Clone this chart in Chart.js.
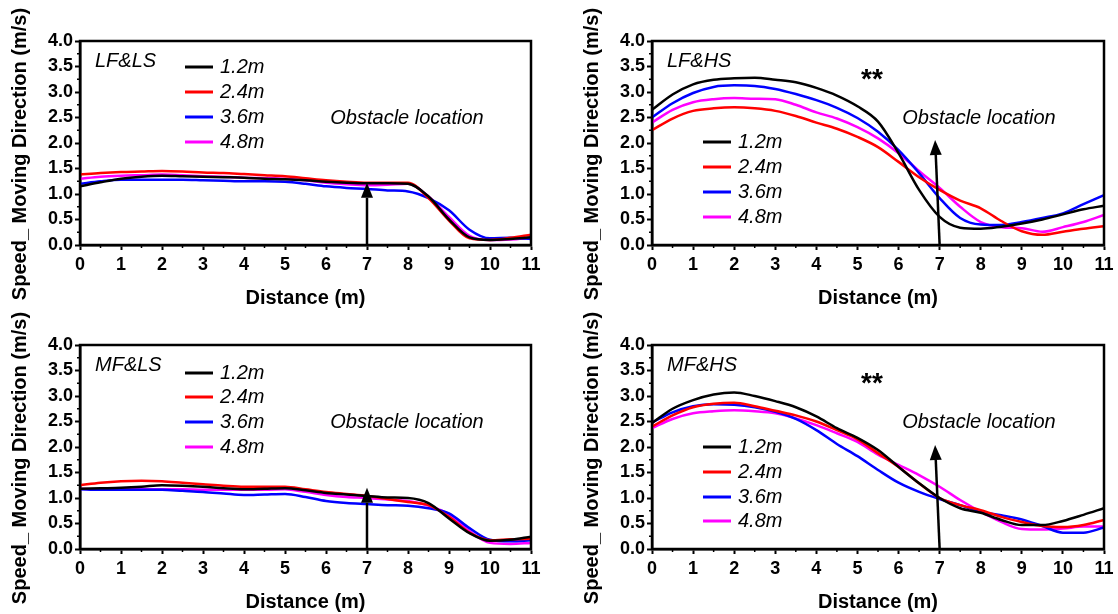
<!DOCTYPE html>
<html>
<head>
<meta charset="utf-8">
<script src="https://cdn.jsdelivr.net/npm/chart.js@4.4.0/dist/chart.umd.min.js"></script>
<style>
html, body { margin: 0; padding: 0; background: #fff; }
body { width: 1118px; height: 614px; position: relative; overflow: hidden; }
canvas { position: absolute; }
</style>
</head>
<body>
<canvas id="lfls" width="560" height="310" style="left:0;top:0"></canvas>
<canvas id="lfhs" width="558" height="310" style="left:560px;top:0"></canvas>
<canvas id="mfls" width="560" height="304" style="left:0;top:310px"></canvas>
<canvas id="mfhs" width="558" height="304" style="left:560px;top:310px"></canvas>
<script>
// distance along the path (m)
var distance = [0, 0.5, 1, 1.5, 2, 2.5, 3, 3.5, 4, 4.5, 5, 5.5, 6, 6.5, 7, 7.5, 8, 8.5, 9, 9.5, 10, 10.5, 11];
var heights = ['1.2m', '2.4m', '3.6m', '4.8m'];
var yTicks = [0, 0.5, 1, 1.5, 2, 2.5, 3, 3.5, 4];

// LF&LS
var lfls12 = [1.15, 1.23, 1.30, 1.34, 1.36, 1.35, 1.34, 1.33, 1.32, 1.30, 1.29, 1.27, 1.24, 1.22, 1.21, 1.21, 1.20, 0.95, 0.50, 0.15, 0.10, 0.12, 0.15];
var lfls24 = [1.38, 1.41, 1.43, 1.44, 1.45, 1.44, 1.42, 1.41, 1.39, 1.37, 1.35, 1.31, 1.27, 1.24, 1.22, 1.22, 1.22, 0.92, 0.48, 0.13, 0.10, 0.14, 0.20];
var lfls36 = [1.20, 1.25, 1.28, 1.28, 1.28, 1.28, 1.27, 1.26, 1.25, 1.25, 1.24, 1.20, 1.15, 1.12, 1.10, 1.07, 1.05, 0.92, 0.68, 0.30, 0.13, 0.14, 0.12];
var lfls48 = [1.30, 1.34, 1.36, 1.37, 1.38, 1.37, 1.35, 1.34, 1.32, 1.31, 1.30, 1.27, 1.22, 1.19, 1.17, 1.18, 1.20, 0.95, 0.55, 0.18, 0.10, 0.11, 0.14];

// LF&HS
var lfhs12 = [2.65, 2.95, 3.15, 3.24, 3.27, 3.28, 3.24, 3.19, 3.08, 2.93, 2.72, 2.42, 1.80, 1.08, 0.55, 0.34, 0.32, 0.36, 0.42, 0.50, 0.60, 0.70, 0.77];
var lfhs24 = [2.25, 2.48, 2.63, 2.68, 2.70, 2.68, 2.63, 2.53, 2.40, 2.28, 2.12, 1.92, 1.63, 1.33, 1.08, 0.87, 0.72, 0.47, 0.27, 0.20, 0.26, 0.32, 0.37];
var lfhs36 = [2.50, 2.78, 2.98, 3.10, 3.13, 3.12, 3.06, 2.96, 2.84, 2.69, 2.49, 2.22, 1.86, 1.41, 0.92, 0.53, 0.40, 0.39, 0.45, 0.53, 0.62, 0.80, 0.98];
var lfhs48 = [2.40, 2.65, 2.80, 2.86, 2.88, 2.87, 2.86, 2.75, 2.60, 2.48, 2.31, 2.09, 1.80, 1.45, 1.12, 0.75, 0.45, 0.35, 0.33, 0.26, 0.35, 0.45, 0.59];

// MF&LS
var mfls12 = [1.18, 1.19, 1.20, 1.22, 1.25, 1.24, 1.22, 1.19, 1.17, 1.18, 1.19, 1.15, 1.10, 1.07, 1.04, 1.01, 1.00, 0.90, 0.60, 0.31, 0.16, 0.18, 0.24];
var mfls24 = [1.25, 1.30, 1.33, 1.34, 1.33, 1.30, 1.27, 1.24, 1.22, 1.22, 1.22, 1.17, 1.12, 1.08, 1.04, 0.98, 0.92, 0.86, 0.63, 0.32, 0.17, 0.19, 0.20];
var mfls36 = [1.17, 1.16, 1.16, 1.16, 1.16, 1.14, 1.12, 1.09, 1.06, 1.07, 1.08, 1.02, 0.94, 0.90, 0.88, 0.86, 0.85, 0.80, 0.70, 0.41, 0.18, 0.15, 0.17];
var mfls48 = [1.18, 1.17, 1.17, 1.17, 1.17, 1.17, 1.16, 1.16, 1.16, 1.16, 1.17, 1.12, 1.06, 1.02, 1.00, 0.97, 0.94, 0.85, 0.68, 0.35, 0.12, 0.10, 0.12];

// MF&HS
var mfhs12 = [2.47, 2.75, 2.92, 3.03, 3.07, 3.00, 2.90, 2.78, 2.60, 2.37, 2.18, 1.94, 1.61, 1.29, 1.00, 0.80, 0.71, 0.57, 0.47, 0.47, 0.55, 0.67, 0.80];
var mfhs24 = [2.40, 2.62, 2.78, 2.85, 2.87, 2.80, 2.71, 2.62, 2.50, 2.33, 2.15, 1.88, 1.61, 1.29, 1.00, 0.86, 0.76, 0.63, 0.53, 0.45, 0.43, 0.47, 0.57];
var mfhs36 = [2.48, 2.68, 2.80, 2.84, 2.83, 2.78, 2.69, 2.55, 2.33, 2.06, 1.82, 1.55, 1.30, 1.12, 0.98, 0.86, 0.73, 0.66, 0.58, 0.45, 0.32, 0.32, 0.42];
var mfhs48 = [2.37, 2.55, 2.66, 2.70, 2.72, 2.70, 2.66, 2.56, 2.43, 2.27, 2.10, 1.85, 1.65, 1.45, 1.22, 0.96, 0.73, 0.53, 0.39, 0.38, 0.40, 0.44, 0.44];

// obstacle arrow: [x bottom, x top, y top]
var arrowLFLS = [7, 7, 1.22];
var arrowLFHS = [7, 6.89, 2.06];
var arrowMFLS = [7, 7, 1.20];
var arrowMFHS = [7, 6.89, 2.04];

Chart.defaults.font.family = '"Liberation Sans", Arial, sans-serif';
Chart.defaults.color = '#000';

var colors = ['#000000', '#ff0000', '#0000ff', '#ff00ff'];
var TEXT_IT = 'italic 20px "Liberation Sans", Arial, sans-serif';

function drawArrow(ctx, x0, y0, x1, y1) {
    var ang = Math.atan2(y1 - y0, x1 - x0);
    var hl = 15, hw = 6;
    var bx = x1 - hl * Math.cos(ang), by = y1 - hl * Math.sin(ang);
    ctx.beginPath();
    ctx.moveTo(x0, y0);
    ctx.lineTo(bx, by);
    ctx.lineWidth = 2.5;
    ctx.strokeStyle = '#000';
    ctx.stroke();
    ctx.beginPath();
    ctx.moveTo(x1, y1);
    ctx.lineTo(bx + hw * Math.sin(ang), by - hw * Math.cos(ang));
    ctx.lineTo(bx - hw * Math.sin(ang), by + hw * Math.cos(ang));
    ctx.closePath();
    ctx.fillStyle = '#000';
    ctx.fill();
}

function decorPlugin(cfg) {
    return {
        id: 'decor',
        afterDraw: function (chart) {
            var ctx = chart.ctx, a = chart.chartArea;
            var sx = chart.scales.x, sy = chart.scales.y;
            ctx.save();
            // frame
            ctx.strokeStyle = '#000';
            ctx.lineWidth = 2.5;
            ctx.strokeRect(a.left, a.top, a.right - a.left, a.bottom - a.top);
            // minor ticks
            ctx.lineWidth = 1.5;
            ctx.beginPath();
            for (var v = 0.5; v < 11; v += 1) {
                var px = sx.getPixelForValue(v);
                ctx.moveTo(px, a.bottom); ctx.lineTo(px, a.bottom + 3);
            }
            for (var w = 0.25; w < 4; w += 0.5) {
                var py = sy.getPixelForValue(w);
                ctx.moveTo(a.left, py); ctx.lineTo(a.left - 3, py);
            }
            ctx.stroke();
            // y title
            ctx.save();
            ctx.translate(a.left - 60, a.top + 113);
            ctx.rotate(-Math.PI / 2);
            ctx.font = 'bold 20px "Liberation Sans", Arial, sans-serif';
            ctx.textAlign = 'center';
            ctx.textBaseline = 'middle';
            ctx.fillStyle = '#000';
            ctx.fillText('Speed_ Moving Direction (m/s)', 0, 0);
            ctx.restore();
            // panel label
            ctx.font = TEXT_IT;
            ctx.fillStyle = '#000';
            ctx.textAlign = 'left';
            ctx.textBaseline = 'middle';
            ctx.fillText(cfg.label, a.left + 15, a.top + 20);
            // legend
            chart.data.datasets.forEach(function (ds, i) {
                var ly = a.top + cfg.legendRows[i];
                ctx.beginPath();
                ctx.moveTo(a.left + cfg.legendX, ly);
                ctx.lineTo(a.left + cfg.legendX + 28, ly);
                ctx.strokeStyle = ds.borderColor;
                ctx.lineWidth = 3;
                ctx.stroke();
                ctx.fillStyle = '#000';
                ctx.fillText(ds.label, a.left + cfg.legendX + 35, ly);
            });
            // obstacle text
            ctx.textAlign = 'center';
            ctx.fillText('Obstacle location', a.left + 327, a.top + 77);
            if (cfg.stars) {
                ctx.font = 'bold 28px "Liberation Sans", Arial, sans-serif';
                ctx.fillText('**', a.left + 220, a.top + 39);
            }
            // arrow
            var ar = cfg.arrow;
            drawArrow(ctx, sx.getPixelForValue(ar[0]), sy.getPixelForValue(0),
                sx.getPixelForValue(ar[1]), sy.getPixelForValue(ar[2]));
            ctx.restore();
        }
    };
}

function makePanel(id, series, cfg) {
    var datasets = series.map(function (vals, i) {
        return {
            label: heights[i],
            data: distance.map(function (d, k) { return { x: d, y: vals[k] }; }),
            borderColor: colors[i],
            borderWidth: 2.5,
            pointRadius: 0,
            fill: false,
            cubicInterpolationMode: 'monotone'
        };
    });
    return new Chart(document.getElementById(id), {
        type: 'line',
        data: { datasets: datasets },
        options: {
            responsive: false,
            animation: false,
            layout: { padding: { left: 0, top: cfg.padTop, right: cfg.padRight, bottom: 0 } },
            plugins: { legend: { display: false }, tooltip: { enabled: false } },
            scales: {
                x: {
                    type: 'linear', min: 0, max: 11,
                    afterFit: function (s) { s.height = 65; },
                    border: { color: '#000', width: 2.5 },
                    grid: { drawOnChartArea: false, tickLength: 5, tickColor: '#000', tickWidth: 2 },
                    ticks: { stepSize: 1, autoSkip: false, maxRotation: 0, padding: 4,
                        font: { size: 18, weight: 'bold' } },
                    title: { display: true, text: 'Distance (m)', padding: { top: 6, bottom: 0 },
                        font: { size: 20, weight: 'bold' } }
                },
                y: {
                    min: 0, max: 4,
                    afterFit: function (s) { s.width = cfg.yWidth; },
                    afterBuildTicks: function (s) { s.ticks = yTicks.map(function (v) { return { value: v }; }); },
                    border: { color: '#000', width: 2.5 },
                    grid: { drawOnChartArea: false, tickLength: 5, tickColor: '#000', tickWidth: 2 },
                    ticks: { padding: 2, font: { size: 18, weight: 'bold' },
                        callback: function (v) { return v.toFixed(1); } }
                }
            }
        },
        plugins: [decorPlugin(cfg)]
    });
}

makePanel('lfls', [lfls12, lfls24, lfls36, lfls48], {
    label: 'LF&LS', padTop: 41, padRight: 29, yWidth: 80,
    legendX: 105, legendRows: [26, 51, 76, 101], stars: false, arrow: arrowLFLS
});
makePanel('lfhs', [lfhs12, lfhs24, lfhs36, lfhs48], {
    label: 'LF&HS', padTop: 41, padRight: 14, yWidth: 92,
    legendX: 51, legendRows: [101, 126, 151, 176], stars: true, arrow: arrowLFHS
});
makePanel('mfls', [mfls12, mfls24, mfls36, mfls48], {
    label: 'MF&LS', padTop: 35, padRight: 29, yWidth: 80,
    legendX: 105, legendRows: [28, 52, 77, 102], stars: false, arrow: arrowMFLS
});
makePanel('mfhs', [mfhs12, mfhs24, mfhs36, mfhs48], {
    label: 'MF&HS', padTop: 35, padRight: 14, yWidth: 92,
    legendX: 51, legendRows: [102, 127, 152, 176], stars: true, arrow: arrowMFHS
});
</script>
</body>
</html>
